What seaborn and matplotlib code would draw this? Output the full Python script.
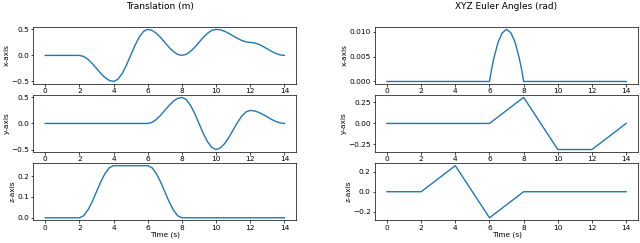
import numpy as np
import pandas as pd
import matplotlib
matplotlib.use("Agg")
import matplotlib.pyplot as plt
import seaborn as sns

# time samples for translation curves (every 0.25 s)
t = np.linspace(0, 14, 57)

trans_x = [0, 0, 0, 0, 0, 0, 0, 0, 0,
           -0.02, -0.075, -0.155, -0.25, -0.345, -0.425, -0.48, -0.5,
           -0.46, -0.35, -0.19, 0.0, 0.19, 0.35, 0.46, 0.5,
           0.48, 0.425, 0.345, 0.25, 0.155, 0.075, 0.02, 0.0,
           0.02, 0.075, 0.155, 0.25, 0.345, 0.425, 0.48, 0.5,
           0.49, 0.4625, 0.4225, 0.375, 0.3275, 0.2875, 0.26, 0.25,
           0.24, 0.2125, 0.1725, 0.125, 0.0775, 0.0375, 0.01, 0.0]
trans_y = [0] * 25 + [
           0.02, 0.075, 0.155, 0.25, 0.345, 0.425, 0.48, 0.5,
           0.46, 0.35, 0.19, 0.0, -0.19, -0.35, -0.46, -0.5,
           -0.47, -0.3875, -0.2675, -0.125, 0.0175, 0.1375, 0.22, 0.25,
           0.24, 0.2125, 0.1725, 0.125, 0.0775, 0.0375, 0.01, 0.0]
trans_z = [0] * 9 + [
           0.01, 0.0375, 0.0775, 0.125, 0.1725, 0.2125, 0.24, 0.25,
           0.25, 0.25, 0.25, 0.25, 0.25, 0.25, 0.25, 0.25,
           0.24, 0.2125, 0.1725, 0.125, 0.0775, 0.0375, 0.01, 0.0] + [0] * 24

# Euler angles
rot_x_t = [0, 6, 6.125, 6.25, 6.5, 6.75, 7, 7.25, 7.5, 7.75, 7.875, 8, 14]
rot_x = [0, 0, 0.0025, 0.0046, 0.0079, 0.0098, 0.0105, 0.0098, 0.0079, 0.0046, 0.0025, 0, 0]
rot_t = [0, 2, 4, 6, 8, 10, 12, 14]
rot_y = [0, 0, 0, 0, 0.31, -0.31, -0.31, 0]
rot_z = [0, 0, 0.26, -0.26, 0, 0, 0, 0]

fs = 5.3
plt.rcParams.update({
    "font.size": fs,
    "axes.linewidth": 0.5,
    "xtick.major.width": 0.5,
    "ytick.major.width": 0.5,
    "xtick.major.size": 1.8,
    "ytick.major.size": 1.8,
    "xtick.major.pad": 1.2,
    "ytick.major.pad": 1.2,
    "axes.labelpad": 1.0,
})

fig = plt.figure(figsize=(6.4, 2.43), dpi=100)

lefts = [0.052, 0.586]
width = 0.411
bottoms = [0.654, 0.374, 0.093]
height = 0.236

left_data = [(t, trans_x), (t, trans_y), (t, trans_z)]
right_data = [(rot_x_t, rot_x), (rot_t, rot_y), (rot_t, rot_z)]
names = ["x-axis", "y-axis", "z-axis"]

for col, series in enumerate([left_data, right_data]):
    for row, (xs, ys) in enumerate(series):
        ax = fig.add_axes([lefts[col], bottoms[row], width, height])
        df = pd.DataFrame({"time": xs, "value": ys})
        sns.lineplot(data=df, x="time", y="value", ax=ax, color="tab:blue", linewidth=1.0)
        ax.set_xticks([0, 2, 4, 6, 8, 10, 12, 14])
        ax.set_ylabel(names[row])
        ax.set_xlabel("Time (s)" if row == 2 else "")
        ax.tick_params(labelsize=fs)

fig.axes[0].set_yticks([-0.5, 0.0, 0.5])
fig.axes[1].set_yticks([-0.5, 0.0, 0.5])
fig.axes[4].set_yticks([-0.25, 0.0, 0.25])

fig.text(0.25, 0.975, "Translation (m)", ha="center", va="center", fontsize=6.5)
fig.text(0.79, 0.975, "XYZ Euler Angles (rad)", ha="center", va="center", fontsize=6.5)

fig.savefig("out.png", dpi=100)
